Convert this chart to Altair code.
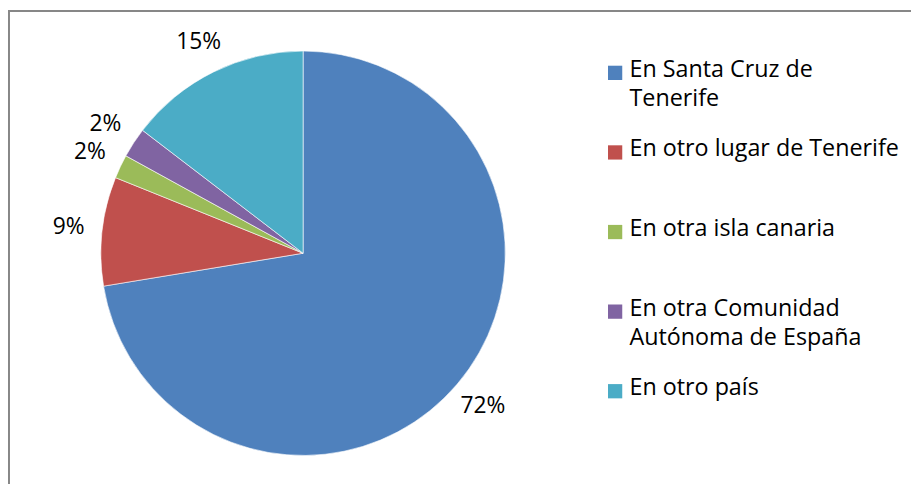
import altair as alt
import pandas as pd

categories = ["En Santa Cruz de Tenerife", "En otro lugar de Tenerife", "En otra isla canaria",
              "En otra Comunidad Autónoma de España", "En otro país"]
legend_labels = ["En Santa Cruz de\nTenerife", "En otro lugar de Tenerife", "En otra isla canaria",
                 "En otra Comunidad\nAutónoma de España", "En otro país"]
values = [72.4, 8.7, 1.9, 2.4, 14.6]
pct_labels = ["72%", "9%", "2%", "2%", "15%"]
colors = ["#4F81BD", "#C0504D", "#9BBB59", "#8064A2", "#4BACC6"]

df = pd.DataFrame({"cat": categories, "legend": legend_labels, "value": values,
                   "pct": pct_labels, "order": list(range(len(categories)))})

FONT = "Open Sans"
base = alt.Chart(df)
theta = alt.Theta("value:Q", stack=True)
color = alt.Color("cat:N", scale=alt.Scale(domain=categories, range=colors), legend=None)
cx, cy = 297.7, 245.3

pie = base.mark_arc(radius=204, stroke="white", strokeWidth=0.6).encode(
    theta=theta, color=color, order=alt.Order("order:Q"),
    x=alt.value(cx), y=alt.value(cy))

labels = base.mark_text(radius=238, fontSize=23, font=FONT, color="black").encode(
    theta=theta, order=alt.Order("order:Q"), text="pct:N",
    x=alt.value(cx), y=alt.value(cy))

yleg = alt.Y("cat:N", scale=alt.Scale(type="point", domain=categories, range=[63.3, 384.5], padding=0), axis=None)

squares = base.mark_square(size=207, opacity=1, filled=True).encode(
    x=alt.value(612.5), y=yleg, color=color)

legtext = base.mark_text(align="left", baseline="top", lineBreak="\n", lineHeight=29.4,
                         fontSize=23.5, font=FONT, color="black", dy=-15).encode(
    x=alt.value(627), y=yleg, text="legend:N")

border_df = pd.DataFrame({"a": [0]})
top_rule = alt.Chart(border_df).mark_rule(color="#878787", strokeWidth=2).encode(
    x=alt.value(0), x2=alt.value(911), y=alt.value(1))
left_rule = alt.Chart(border_df).mark_rule(color="#878787", strokeWidth=2).encode(
    x=alt.value(1), y=alt.value(0), y2=alt.value(478))

chart = alt.layer(pie, labels, squares, legtext, top_rule, left_rule).properties(
    width=911, height=478, padding=0, autosize=alt.AutoSizeParams(type="none")
).configure_view(stroke=None)

chart.save("out.html", embed_options={"renderer": "svg", "actions": False})
